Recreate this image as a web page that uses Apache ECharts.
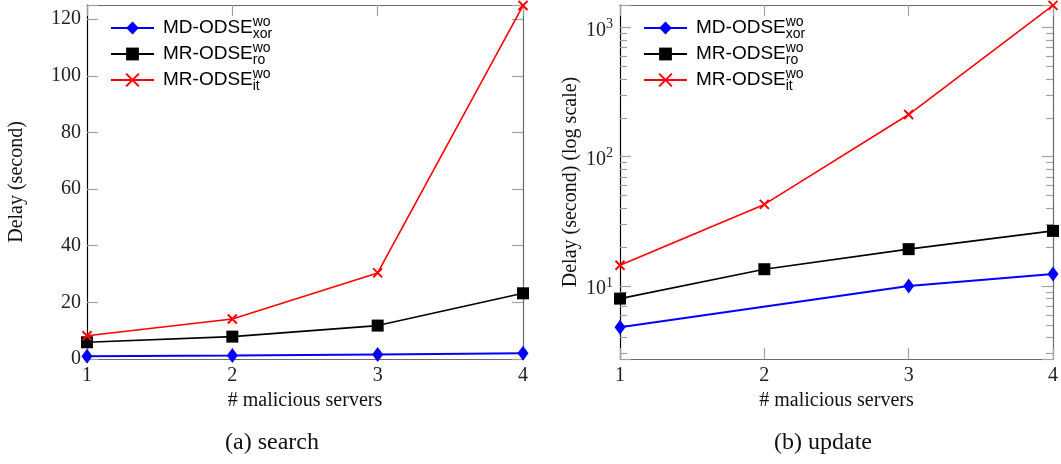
<!DOCTYPE html>
<html><head><meta charset="utf-8">
<script src="https://cdn.jsdelivr.net/npm/echarts@6/dist/echarts.min.js"></script>
<style>html,body{margin:0;padding:0;background:#fff}#c{width:1061px;height:464px}</style>
</head><body><div id="c"></div>
<script>
// ---- data ----
const seriesNames = ['MD-ODSE_xor', 'MR-ODSE_ro', 'MR-ODSE_it'];
const servers = [1, 2, 3, 4];
const searchXor = [1.0, 1.2, 1.6, 2.0];
const searchRo = [5.9, 7.9, 11.8, 23.2];
const searchIt = [8.2, 14.1, 30.4, 124.8];
const updateXorServers = [1, 3, 4];
const updateXor = [4.8, 10.0, 12.4];
const updateRo = [8.0, 13.5, 19.3, 26.7];
const updateIt = [14.5, 42.8, 212, 1480];
const searchYTicks = [0, 20, 40, 60, 80, 100, 120];
const updateYMajor = [10, 100, 1000];
const updateYMinor = [3, 4, 5, 6, 7, 8, 9, 20, 30, 40, 50, 60, 70, 80, 90, 200, 300, 400, 500, 600, 700, 800, 900];
const captions = ['(a) search', '(b) update'];
const xName = '# malicious servers';
const yNames = ['Delay (second)', 'Delay (second) (log scale)'];

// ---- styling ----
const SERIF = 'Liberation Serif';
const SANS = 'Liberation Sans';
const frameGrey = '#6a6a6a';
const tickGrey = '#a0a0a0';
const styles = [
  { color: '#0000ff', symbol: 'diamond', size: [11, 15], width: 2 },
  { color: '#000000', symbol: 'rect', size: 12, width: 1.6 },
  { color: '#ff0000', symbol: 'path://M0,0L10,10M10,0L0,10', size: 9, width: 1.6, border: 2 }
];
const zip = (xs, ys) => xs.map((x, i) => [x, ys[i]]);
const yMinLog = 2.73, yMaxLog = 1490;

function mkSeries(idx, xs, ys, axisIdx) {
  const s = styles[idx];
  return {
    name: seriesNames[idx], type: 'line', xAxisIndex: axisIdx.x, yAxisIndex: axisIdx.y,
    data: zip(xs, ys), symbol: s.symbol, symbolSize: s.size, showSymbol: true,
    lineStyle: { color: s.color, width: s.width },
    itemStyle: { color: s.color, borderColor: s.color, borderWidth: s.border || 0 },
    emphasis: { disabled: true }, silent: true, clip: false, z: 3 + idx
  };
}
function xAxisDef(grid, pos, withLabels) {
  return {
    type: 'value', gridIndex: grid, position: pos, min: 1, max: 4, interval: 1,
    axisLine: { show: true, onZero: false, lineStyle: { color: frameGrey, width: 1.2 } },
    axisTick: { show: true, inside: true, length: 11, lineStyle: { color: tickGrey, width: 1.2 } },
    axisLabel: { show: withLabels, fontFamily: SERIF, fontSize: 20, color: '#222', margin: 7 },
    splitLine: { show: false },
    name: withLabels ? xName : '', nameLocation: 'middle', nameGap: 31,
    nameTextStyle: { fontFamily: SERIF, fontSize: 20, color: '#111' }
  };
}
const legendRich = {
  m: { fontFamily: SANS, fontSize: 19, lineHeight: 26, color: '#000', padding: [0, 0, 0, 4] },
  p: { fontFamily: SANS, fontSize: 14, lineHeight: 14, verticalAlign: 'top', width: 0, color: '#000' },
  q: { fontFamily: SANS, fontSize: 14, lineHeight: 14, verticalAlign: 'bottom', color: '#000' }
};
function legendDef(left) {
  return {
    orient: 'vertical', left: left, top: 15, padding: 0, itemWidth: 43, itemHeight: 16, itemGap: 0,
    selectedMode: false, backgroundColor: 'transparent',
    data: seriesNames.map((n, i) => i === 2 ? { name: n, itemStyle: { borderWidth: 2, borderColor: '#ff0000' } } : { name: n }),
    formatter: n => { const p = n.split('_'); return '{m|' + p[0] + '}{p|wo}{q|' + p[1] + '}'; },
    textStyle: { rich: legendRich }
  };
}

const option = {
  animation: false,
  backgroundColor: '#fff',
  grid: [
    { left: 87, right: 538, top: 5, bottom: 105 },
    { left: 620, right: 5, top: 5, bottom: 105 }
  ],
  legend: [legendDef(110), legendDef(643)],
  xAxis: [
    xAxisDef(0, 'bottom', true), xAxisDef(0, 'top', false),
    xAxisDef(1, 'bottom', true), xAxisDef(1, 'top', false)
  ],
  yAxis: [
    {
      type: 'value', gridIndex: 0, position: 'left', min: 0, max: 125, interval: 20,
      axisLine: { show: true, onZero: false, lineStyle: { color: '#000', width: 1.2 } },
      axisTick: { show: true, inside: true, length: 11, lineStyle: { color: tickGrey, width: 1.2 } },
      axisLabel: { fontFamily: SERIF, fontSize: 20, color: '#222', margin: 6,
        formatter: v => searchYTicks.includes(v) ? String(v) : '' },
      splitLine: { show: false },
      name: yNames[0], nameLocation: 'middle', nameGap: 60,
      nameTextStyle: { fontFamily: SERIF, fontSize: 20, color: '#111' }
    },
    {
      type: 'value', gridIndex: 0, position: 'right', min: 0, max: 125, interval: 20,
      axisLine: { show: true, onZero: false, lineStyle: { color: frameGrey, width: 1.2 } },
      axisTick: { show: true, inside: true, length: 11, lineStyle: { color: tickGrey, width: 1.2 } },
      axisLabel: { show: false }, splitLine: { show: false }
    },
    {
      type: 'log', logBase: 10, gridIndex: 1, position: 'left', min: yMinLog, max: yMaxLog,
      axisLine: { show: true, onZero: false, lineStyle: { color: '#000', width: 1.2 } },
      axisTick: { show: true, inside: true, length: 11, lineStyle: { color: tickGrey, width: 1.2 } },
      axisLabel: { margin: 7, padding: [6, 0, 0, 0],
        formatter: v => {
          const e = Math.log10(v), r = Math.round(e);
          return (Math.abs(e - r) < 1e-6 && updateYMajor.includes(Math.pow(10, r))) ? '{b|10}{s|' + r + '}' : '';
        },
        rich: {
          b: { fontFamily: SERIF, fontSize: 20, lineHeight: 26, color: '#222' },
          s: { fontFamily: SERIF, fontSize: 14, lineHeight: 14, verticalAlign: 'top', color: '#222' }
        }
      },
      splitLine: { show: false },
      name: yNames[1], nameLocation: 'middle', nameGap: 39,
      nameTextStyle: { fontFamily: SERIF, fontSize: 20, color: '#111' }
    },
    {
      type: 'log', logBase: 10, gridIndex: 1, position: 'right', min: yMinLog, max: yMaxLog,
      axisLine: { show: true, onZero: false, lineStyle: { color: frameGrey, width: 1.2 } },
      axisTick: { show: true, inside: true, length: 11, lineStyle: { color: tickGrey, width: 1.2 } },
      axisLabel: { show: false }, splitLine: { show: false }
    },
    {
      type: 'value', gridIndex: 1, position: 'left', min: Math.log10(yMinLog), max: Math.log10(yMaxLog),
      axisLine: { show: false },
      axisTick: { show: true, inside: true, length: 7, customValues: updateYMinor.map(v => Math.log10(v)),
        lineStyle: { color: tickGrey, width: 1.2 } },
      axisLabel: { show: false }, splitLine: { show: false }
    },
    {
      type: 'value', gridIndex: 1, position: 'right', min: Math.log10(yMinLog), max: Math.log10(yMaxLog),
      axisLine: { show: false },
      axisTick: { show: true, inside: true, length: 7, customValues: updateYMinor.map(v => Math.log10(v)),
        lineStyle: { color: tickGrey, width: 1.2 } },
      axisLabel: { show: false }, splitLine: { show: false }
    }
  ],
  graphic: [
    { type: 'text', x: 272, y: 443, style: { text: captions[0], fontFamily: SERIF, fontSize: 24, fill: '#111', align: 'center', verticalAlign: 'middle' } },
    { type: 'text', x: 823, y: 443, style: { text: captions[1], fontFamily: SERIF, fontSize: 24, fill: '#111', align: 'center', verticalAlign: 'middle' } }
  ],
  series: [
    mkSeries(0, servers, searchXor, { x: 0, y: 0 }),
    mkSeries(1, servers, searchRo, { x: 0, y: 0 }),
    mkSeries(2, servers, searchIt, { x: 0, y: 0 }),
    mkSeries(0, updateXorServers, updateXor, { x: 2, y: 2 }),
    mkSeries(1, servers, updateRo, { x: 2, y: 2 }),
    mkSeries(2, servers, updateIt, { x: 2, y: 2 })
  ]
};
const chart = echarts.init(document.getElementById('c'), null, { renderer: 'canvas' });
chart.setOption(option);
</script></body></html>
